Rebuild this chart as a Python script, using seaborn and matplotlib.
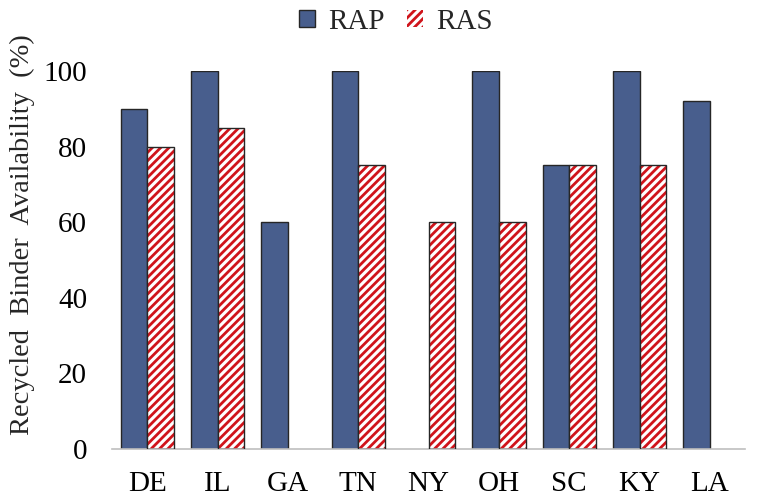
import numpy as np
import pandas as pd
import matplotlib
matplotlib.use("Agg")
import matplotlib.pyplot as plt
import matplotlib.patches as mpatches
import seaborn as sns

# ── Data ───────────────────────────────────────────────────────────────────
states = ["DE", "IL", "GA", "TN", "NY", "OH", "SC", "KY", "LA"]
rap = [90, 100, 60, 100, np.nan, 100, 75, 100, 92]
ras = [80, 85, np.nan, 75, 60, 60, 75, 75, np.nan]
series = ["RAP", "RAS"]

BLUE = "#485E8D"
RED = "#D0141B"
EDGE = "#262626"

df = pd.DataFrame({
    "state": states * 2,
    "series": ["RAP"] * len(states) + ["RAS"] * len(states),
    "value": rap + ras,
}).dropna()

sns.set_theme(style="white")
plt.rcParams["font.family"] = ["Liberation Serif", "DejaVu Serif"]
plt.rcParams["hatch.linewidth"] = 2.0

fig = plt.figure(figsize=(7.58, 4.99), dpi=100)
ax = fig.add_axes([0.148, 0.100, 0.835, 0.758])

sns.barplot(data=df, x="state", y="value", hue="series", order=states,
            hue_order=series, palette=[BLUE, "white"], width=0.76,
            saturation=1, ax=ax, legend=False, edgecolor=EDGE, linewidth=1.0)

# RAS bars: red diagonal stripes + dark outline on top
for bar in ax.containers[1]:
    bar.set_facecolor("white")
    bar.set_edgecolor(RED)
    bar.set_linewidth(0)
    bar.set_hatch("////")
    ax.add_patch(mpatches.Rectangle(bar.get_xy(), bar.get_width(), bar.get_height(),
                                    fill=False, edgecolor=EDGE, linewidth=1.0, zorder=3))

ax.set_ylim(0, 100)
ax.set_xlim(-0.5, len(states) - 0.5)
ax.set_yticks([0, 20, 40, 60, 80, 100])
ax.set_xlabel("")
ax.set_ylabel("Recycled  Binder  Availability  (%)", fontsize=20.5)
ax.yaxis.set_label_coords(-0.122, 0.566)
ax.tick_params(axis="both", length=0, labelsize=21, colors="black")
ax.tick_params(axis="y", pad=18)
ax.tick_params(axis="x", pad=16)
for s in ["left", "right", "top"]:
    ax.spines[s].set_visible(False)
ax.spines["bottom"].set_color("#BFBFBF")
ax.spines["bottom"].set_linewidth(1.2)

h_rap = mpatches.Patch(facecolor=BLUE, edgecolor=EDGE, linewidth=1.0, label="RAP")
h_ras = mpatches.Patch(facecolor="white", edgecolor=RED, hatch="////", linewidth=0, label="RAS")
fig.legend(handles=[h_rap, h_ras], loc="upper center", bbox_to_anchor=(0.522, 1.035),
           ncol=2, frameon=False, fontsize=21, handlelength=0.55, handleheight=0.55,
           handletextpad=0.45, columnspacing=0.75)

fig.savefig("out.png", dpi=100)
